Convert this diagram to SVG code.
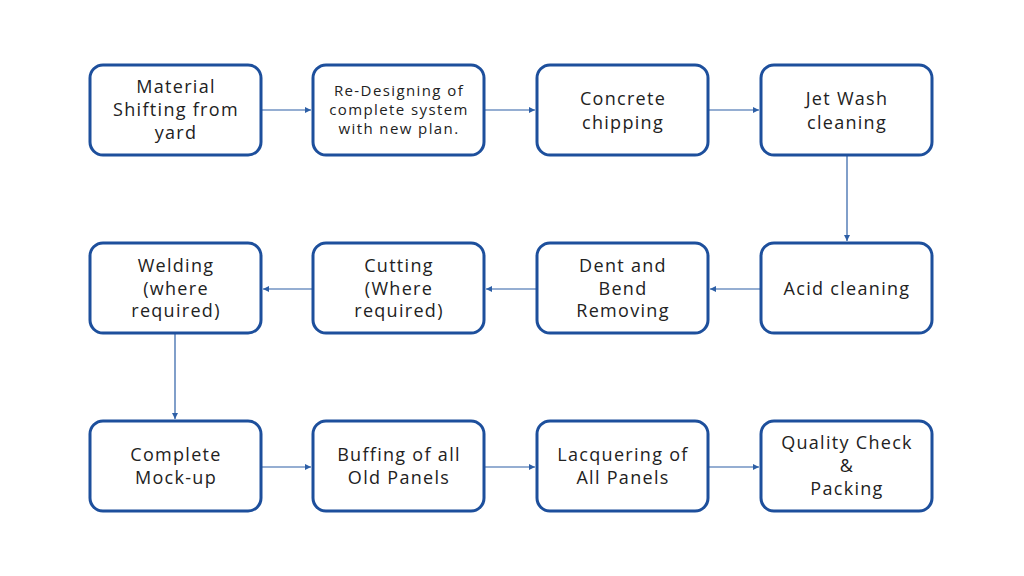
<svg xmlns="http://www.w3.org/2000/svg" width="1024" height="576" viewBox="0 0 1024 576">
<style>
.box{fill:#fff;stroke:#1d4f9c;stroke-width:3}
.t{font-family:"Open Sans","Liberation Sans",sans-serif;font-size:18px;letter-spacing:1.3px;fill:#222;text-anchor:middle}
.s{font-size:15px;letter-spacing:1.4px}
.c{stroke:#2d5fa6;stroke-width:1.2;fill:none;marker-end:url(#ah)}
</style>
<defs>
<marker id="ah" viewBox="0 0 10 10" refX="10" refY="5" markerWidth="6" markerHeight="6" markerUnits="userSpaceOnUse" orient="auto">
<path d="M0,0 L10,5 L0,10 z" fill="#2d5fa6"/>
</marker>
</defs>
<rect width="1024" height="576" fill="#fff"/>
<g id="connectors">
<line class="c" x1="262" y1="110" x2="311" y2="110"/>
<line class="c" x1="485" y1="110" x2="535" y2="110"/>
<line class="c" x1="709" y1="110" x2="759" y2="110"/>
<line class="c" x1="847" y1="156" x2="847" y2="241"/>
<line class="c" x1="760" y1="289" x2="710" y2="289"/>
<line class="c" x1="536" y1="289" x2="486" y2="289"/>
<line class="c" x1="312" y1="289" x2="263" y2="289"/>
<line class="c" x1="175" y1="334" x2="175" y2="419"/>
<line class="c" x1="262" y1="467" x2="311" y2="467"/>
<line class="c" x1="485" y1="467" x2="535" y2="467"/>
<line class="c" x1="709" y1="467" x2="759" y2="467"/>
</g>
<g id="n1"><rect class="box" x="90" y="65" width="171" height="90" rx="13"/>
<text class="t" x="176" y="93">Material</text><text class="t" x="176" y="116">Shifting from</text><text class="t" x="176" y="139">yard</text></g>
<g id="n2"><rect class="box" x="313" y="65" width="171" height="90" rx="13"/>
<text class="t s" x="399" y="96">Re-Designing of</text><text class="t s" x="399" y="115">complete system</text><text class="t s" x="399" y="134">with new plan.</text></g>
<g id="n3"><rect class="box" x="537" y="65" width="171" height="90" rx="13"/>
<text class="t" x="623" y="105">Concrete</text><text class="t" x="623" y="129">chipping</text></g>
<g id="n4"><rect class="box" x="761" y="65" width="171" height="90" rx="13"/>
<text class="t" x="847" y="105">Jet Wash</text><text class="t" x="847" y="129">cleaning</text></g>
<g id="n5"><rect class="box" x="761" y="243" width="171" height="90" rx="13"/>
<text class="t" x="847" y="295">Acid cleaning</text></g>
<g id="n6"><rect class="box" x="537" y="243" width="171" height="90" rx="13"/>
<text class="t" x="623" y="272">Dent and</text><text class="t" x="623" y="295">Bend</text><text class="t" x="623" y="317">Removing</text></g>
<g id="n7"><rect class="box" x="313" y="243" width="171" height="90" rx="13"/>
<text class="t" x="399" y="272">Cutting</text><text class="t" x="399" y="295">(Where</text><text class="t" x="399" y="317">required)</text></g>
<g id="n8"><rect class="box" x="90" y="243" width="171" height="90" rx="13"/>
<text class="t" x="176" y="272">Welding</text><text class="t" x="176" y="295">(where</text><text class="t" x="176" y="317">required)</text></g>
<g id="n9"><rect class="box" x="90" y="421" width="171" height="90" rx="13"/>
<text class="t" x="176" y="461">Complete</text><text class="t" x="176" y="484">Mock-up</text></g>
<g id="n10"><rect class="box" x="313" y="421" width="171" height="90" rx="13"/>
<text class="t" x="399" y="461">Buffing of all</text><text class="t" x="399" y="484">Old Panels</text></g>
<g id="n11"><rect class="box" x="537" y="421" width="171" height="90" rx="13"/>
<text class="t" x="623" y="461">Lacquering of</text><text class="t" x="623" y="484">All Panels</text></g>
<g id="n12"><rect class="box" x="761" y="421" width="171" height="90" rx="13"/>
<text class="t" x="847" y="449">Quality Check</text><text class="t" x="847" y="472">&amp;</text><text class="t" x="847" y="495">Packing</text></g>
</svg>
